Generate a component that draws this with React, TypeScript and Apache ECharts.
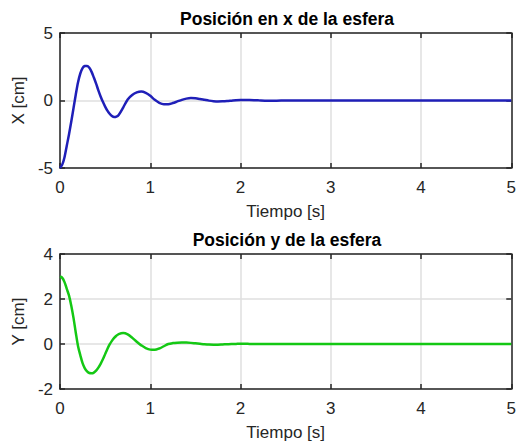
import React, { useEffect, useRef } from "react";
import * as echarts from "echarts";

const timeX = [0, 0.025, 0.05, 0.075, 0.1, 0.125, 0.15, 0.175, 0.2, 0.225, 0.25, 0.275, 0.3, 0.325, 0.35, 0.375, 0.4, 0.425, 0.45, 0.475, 0.5, 0.525, 0.55, 0.575, 0.6, 0.625, 0.65, 0.7, 0.75, 0.8, 0.85, 0.9, 0.95, 1.0, 1.05, 1.1, 1.15, 1.2, 1.25, 1.3, 1.35, 1.4, 1.45, 1.5, 1.55, 1.6, 1.65, 1.7, 1.75, 1.8, 1.85, 1.9, 1.95, 2.0, 2.05, 2.1, 2.2, 2.3, 2.4, 2.5, 3, 3.5, 4, 4.5, 5];
const posX = [-5, -4.75, -4.2, -3.35, -2.5, -1.55, -0.55, 0.45, 1.35, 2.0, 2.4, 2.55, 2.56, 2.42, 2.12, 1.7, 1.25, 0.75, 0.3, -0.1, -0.45, -0.75, -0.98, -1.15, -1.23, -1.2, -1.07, -0.52, 0.08, 0.41, 0.6, 0.67, 0.57, 0.35, 0.05, -0.17, -0.27, -0.27, -0.19, -0.07, 0.05, 0.14, 0.18, 0.16, 0.11, 0.05, -0.01, -0.05, -0.07, -0.06, -0.04, -0.01, 0.02, 0.035, 0.04, 0.035, 0.01, -0.01, -0.01, 0, 0, 0, 0, 0, 0];

const timeY = [0, 0.025, 0.05, 0.075, 0.1, 0.125, 0.15, 0.175, 0.2, 0.225, 0.25, 0.275, 0.3, 0.325, 0.35, 0.375, 0.4, 0.425, 0.45, 0.475, 0.5, 0.525, 0.55, 0.575, 0.6, 0.625, 0.65, 0.7, 0.75, 0.8, 0.85, 0.9, 0.95, 1.0, 1.05, 1.1, 1.15, 1.2, 1.25, 1.3, 1.35, 1.4, 1.45, 1.5, 1.55, 1.6, 1.65, 1.7, 1.75, 1.8, 1.85, 1.9, 1.95, 2.0, 2.05, 2.1, 2.2, 2.3, 2.4, 2.5, 3, 3.5, 4, 4.5, 5];
const posY = [3.0, 2.94, 2.75, 2.45, 2.15, 1.7, 1.15, 0.5, -0.1, -0.5, -0.85, -1.08, -1.22, -1.29, -1.3, -1.27, -1.18, -1.05, -0.88, -0.68, -0.45, -0.22, -0.02, 0.14, 0.27, 0.37, 0.44, 0.49, 0.43, 0.28, 0.1, -0.06, -0.18, -0.25, -0.26, -0.2, -0.1, 0.0, 0.04, 0.06, 0.07, 0.065, 0.05, 0.03, 0.01, -0.01, -0.025, -0.03, -0.03, -0.02, -0.01, 0, 0.005, 0.01, 0.01, 0.005, 0, 0, 0, 0, 0, 0, 0, 0, 0];

const titles = ["Posición en x de la esfera", "Posición y de la esfera"];
const xName = "Tiempo [s]";
const yNames = ["X [cm]", "Y [cm]"];
const xTicks = { min: 0, max: 5, interval: 1 };
const yRanges = [
  { min: -5, max: 5, interval: 5 },
  { min: -2, max: 4, interval: 2 },
];

const FONT = "Liberation Sans, Arial, Helvetica, sans-serif";
const AXIS_COLOR = "#262626";
const GRID_COLOR = "#dfdfdf";

export default function App() {
  const ref = useRef<HTMLDivElement>(null);

  useEffect(() => {
    document.body.style.margin = "0";
    if (!ref.current) return;
    const chart = echarts.init(ref.current, undefined, { renderer: "svg" });

    const grids = [
      { left: 60, top: 33, width: 454, height: 135 },
      { left: 60, top: 254, width: 454, height: 135 },
    ];

    const xAxes: any[] = [];
    const yAxes: any[] = [];
    [0, 1].forEach((g) => {
      xAxes.push({
        gridIndex: g,
        type: "value",
        position: "bottom",
        ...xTicks,
        name: xName,
        nameLocation: "middle",
        nameGap: 35,
        nameTextStyle: { fontFamily: FONT, fontSize: 17, color: AXIS_COLOR },
        axisLine: { show: true, onZero: false, lineStyle: { color: AXIS_COLOR, width: 1.5 } },
        axisTick: { show: true, inside: true, length: 5, lineStyle: { color: AXIS_COLOR, width: 1.5 } },
        axisLabel: { margin: 11, fontFamily: FONT, fontSize: 17, color: AXIS_COLOR },
        splitLine: { show: true, lineStyle: { color: GRID_COLOR, width: 1.5 } },
      });
      xAxes.push({
        gridIndex: g,
        type: "value",
        position: "top",
        ...xTicks,
        axisLine: { show: true, onZero: false, lineStyle: { color: AXIS_COLOR, width: 1.5 } },
        axisTick: { show: true, inside: true, length: 5, lineStyle: { color: AXIS_COLOR, width: 1.5 } },
        axisLabel: { show: false },
        splitLine: { show: false },
      });
      yAxes.push({
        gridIndex: g,
        type: "value",
        position: "left",
        ...yRanges[g],
        name: yNames[g],
        nameLocation: "middle",
        nameGap: 23,
        nameRotate: 90,
        nameTextStyle: { fontFamily: FONT, fontSize: 17, color: AXIS_COLOR },
        axisLine: { show: true, onZero: false, lineStyle: { color: AXIS_COLOR, width: 1.5 } },
        axisTick: { show: true, inside: true, length: 5, lineStyle: { color: AXIS_COLOR, width: 1.5 } },
        axisLabel: { margin: 7, fontFamily: FONT, fontSize: 17, color: AXIS_COLOR },
        splitLine: { show: true, lineStyle: { color: GRID_COLOR, width: 1.5 } },
      });
      yAxes.push({
        gridIndex: g,
        type: "value",
        position: "right",
        ...yRanges[g],
        axisLine: { show: true, onZero: false, lineStyle: { color: AXIS_COLOR, width: 1.5 } },
        axisTick: { show: true, inside: true, length: 5, lineStyle: { color: AXIS_COLOR, width: 1.5 } },
        axisLabel: { show: false },
        splitLine: { show: false },
      });
    });

    chart.setOption({
      animation: false,
      backgroundColor: "#ffffff",
      grid: grids,
      xAxis: xAxes,
      yAxis: yAxes,
      graphic: [
        {
          type: "text",
          x: 287,
          y: 18.5,
          style: {
            text: titles[0],
            font: `bold 17.5px ${FONT}`,
            fill: "#000000",
            textAlign: "center",
            textVerticalAlign: "middle",
          },
        },
        {
          type: "text",
          x: 287,
          y: 239.5,
          style: {
            text: titles[1],
            font: `bold 17.5px ${FONT}`,
            fill: "#000000",
            textAlign: "center",
            textVerticalAlign: "middle",
          },
        },
      ],
      series: [
        {
          type: "line",
          xAxisIndex: 0,
          yAxisIndex: 0,
          data: timeX.map((t, i) => [t, posX[i]]),
          showSymbol: false,
          smooth: 0.3,
          lineStyle: { color: "#1f1fb8", width: 2.5 },
          z: 5,
        },
        {
          type: "line",
          xAxisIndex: 2,
          yAxisIndex: 2,
          data: timeY.map((t, i) => [t, posY[i]]),
          showSymbol: false,
          smooth: 0.3,
          lineStyle: { color: "#14c814", width: 2.5 },
          z: 5,
        },
      ],
    });

    return () => chart.dispose();
  }, []);

  return <div ref={ref} style={{ width: 519, height: 444 }} />;
}
